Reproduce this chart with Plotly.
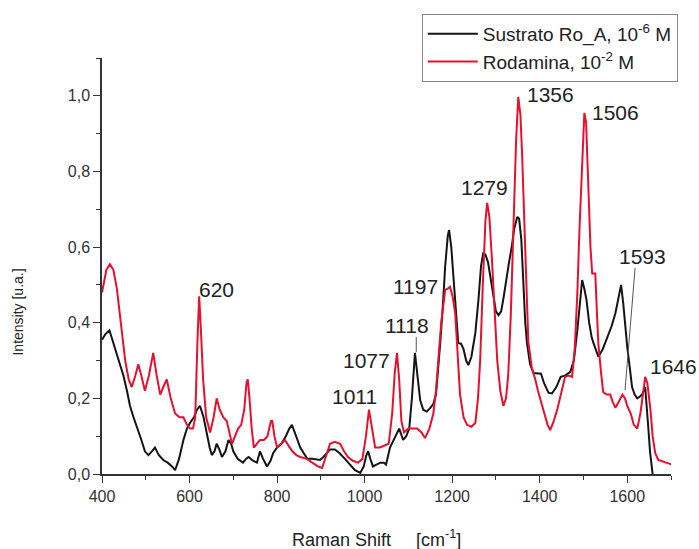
import plotly.graph_objects as go

# Raman spectra: Rhodamine reference solution and Ro_A SERS substrate
rodamina_x = [400, 410, 418, 426, 434, 443, 453, 461, 468, 476, 483, 490, 498, 507, 517, 525, 533, 540,
              548, 557, 567, 577, 586, 594, 601, 608, 613, 618, 622, 626, 631, 638, 647, 655, 662, 669,
              677, 685, 692, 697, 704, 711, 718, 725, 730, 733, 737, 742, 747, 754, 761, 770, 778, 786,
              789, 794, 800, 809, 818, 826, 835, 844, 853, 868, 882, 893, 903, 912, 921, 932, 944, 953,
              962, 973, 985, 995, 1003, 1010, 1016, 1024, 1035, 1045, 1055, 1063, 1069, 1074, 1079, 1084,
              1090, 1100, 1110, 1120, 1130, 1138, 1148, 1157, 1163, 1168, 1175, 1184, 1190, 1195, 1201,
              1207, 1212, 1218, 1226, 1234, 1244, 1253, 1259, 1264, 1270, 1276, 1280, 1285, 1291, 1297,
              1303, 1310, 1317, 1323, 1328, 1334, 1340, 1346, 1351, 1356, 1360, 1363, 1368, 1374, 1382,
              1390, 1396, 1401, 1410, 1418, 1424, 1432, 1440, 1448, 1458, 1466, 1474, 1480, 1486, 1491,
              1497, 1502, 1506, 1511, 1516, 1520, 1527, 1531, 1534, 1540, 1545, 1553, 1561, 1567, 1573,
              1580, 1589, 1595, 1600, 1608, 1615, 1623, 1630, 1637, 1641, 1646, 1653, 1658, 1664, 1671,
              1682, 1692, 1702]
rodamina_y = [0.48, 0.54, 0.555, 0.54, 0.49, 0.40, 0.30, 0.25, 0.23, 0.26, 0.29, 0.26, 0.22, 0.26, 0.32,
              0.26, 0.21, 0.23, 0.25, 0.20, 0.16, 0.15, 0.15, 0.13, 0.12, 0.12, 0.15, 0.35, 0.47, 0.38,
              0.25, 0.15, 0.11, 0.15, 0.20, 0.17, 0.15, 0.14, 0.10, 0.08, 0.10, 0.12, 0.13, 0.17, 0.24,
              0.25, 0.20, 0.12, 0.07, 0.08, 0.09, 0.09, 0.10, 0.14, 0.14, 0.10, 0.07, 0.08, 0.09, 0.075,
              0.06, 0.05, 0.045, 0.04, 0.03, 0.02, 0.016, 0.05, 0.08, 0.085, 0.08, 0.06, 0.045, 0.035,
              0.03, 0.04, 0.10, 0.17, 0.13, 0.07, 0.07, 0.075, 0.08, 0.16, 0.27, 0.32, 0.25, 0.14, 0.11,
              0.12, 0.12, 0.12, 0.11, 0.095, 0.12, 0.16, 0.22, 0.30, 0.40, 0.487, 0.49, 0.495, 0.47,
              0.425, 0.32, 0.21, 0.15, 0.13, 0.125, 0.135, 0.20, 0.30, 0.50, 0.67, 0.717, 0.68, 0.566,
              0.43, 0.30, 0.22, 0.18, 0.20, 0.26, 0.42, 0.65, 0.88, 0.997, 0.95, 0.84, 0.74, 0.55, 0.35,
              0.28, 0.25, 0.22, 0.20, 0.16, 0.13, 0.116, 0.14, 0.17, 0.21, 0.257, 0.26, 0.257, 0.33,
              0.478, 0.65, 0.83, 0.955, 0.93, 0.74, 0.60, 0.53, 0.53, 0.42, 0.346, 0.27, 0.217, 0.21,
              0.21, 0.19, 0.175, 0.19, 0.21, 0.20, 0.18, 0.16, 0.13, 0.12, 0.16, 0.22, 0.257, 0.24, 0.17,
              0.10, 0.055, 0.037, 0.032, 0.028, 0.025]

sustrato_x = [400, 408, 417, 425, 434, 441, 449, 457, 464, 472, 480, 490, 498, 506, 514, 521, 530, 540,
              550, 560, 567, 576, 586, 594, 601, 610, 617, 624, 632, 640, 646, 651, 657, 662, 668, 674,
              682, 689, 695, 700, 710, 722, 729, 735, 745, 754, 761, 768, 777, 785, 791, 800, 810, 820,
              828, 834, 840, 847, 853, 861, 869, 880, 890, 898, 906, 914, 921, 932, 943, 955, 966, 978,
              990, 998, 1004, 1008, 1013, 1019, 1027, 1036, 1044, 1049, 1058, 1066, 1074, 1079, 1088,
              1095, 1102, 1108, 1115, 1120, 1127, 1134, 1142, 1150, 1157, 1163, 1168, 1173, 1179, 1184,
              1190, 1193, 1198, 1203, 1209, 1214, 1220, 1226, 1232, 1237, 1244, 1253, 1260, 1266, 1271,
              1276, 1282, 1288, 1294, 1300, 1306, 1312, 1318, 1324, 1330, 1336, 1342, 1349, 1353, 1358,
              1363, 1367, 1371, 1378, 1386, 1395, 1403, 1410, 1420, 1428, 1438, 1448, 1458, 1470, 1478,
              1486, 1492, 1497, 1502, 1507, 1513, 1519, 1523, 1529, 1534, 1544, 1554, 1564, 1573, 1579,
              1586, 1591, 1596, 1600, 1606, 1611, 1617, 1623, 1629, 1634, 1641, 1645, 1648, 1652, 1656,
              1660]
sustrato_y = [0.355, 0.37, 0.38, 0.35, 0.32, 0.29, 0.26, 0.22, 0.18, 0.15, 0.125, 0.09, 0.06, 0.05, 0.06,
              0.07, 0.05, 0.037, 0.03, 0.02, 0.01, 0.04, 0.09, 0.12, 0.135, 0.15, 0.17, 0.18, 0.15, 0.10,
              0.07, 0.05, 0.06, 0.08, 0.065, 0.045, 0.06, 0.09, 0.08, 0.06, 0.04, 0.03, 0.04, 0.045,
              0.035, 0.03, 0.06, 0.04, 0.02, 0.035, 0.055, 0.07, 0.08, 0.10, 0.12, 0.13, 0.11, 0.085,
              0.07, 0.055, 0.04, 0.04, 0.038, 0.037, 0.045, 0.055, 0.065, 0.065, 0.055, 0.04, 0.025,
              0.01, 0.003, 0.02, 0.05, 0.06, 0.04, 0.02, 0.025, 0.03, 0.03, 0.025, 0.07, 0.09, 0.11,
              0.12, 0.09, 0.10, 0.12, 0.20, 0.32, 0.26, 0.195, 0.17, 0.165, 0.175, 0.185, 0.21, 0.27,
              0.35, 0.45, 0.548, 0.63, 0.645, 0.60, 0.52, 0.42, 0.346, 0.345, 0.33, 0.30, 0.288, 0.31,
              0.373, 0.46, 0.55, 0.585, 0.58, 0.56, 0.52, 0.47, 0.43, 0.42, 0.43, 0.47, 0.52, 0.56,
              0.60, 0.65, 0.68, 0.675, 0.62, 0.50, 0.40, 0.346, 0.29, 0.267, 0.265, 0.265, 0.24, 0.215,
              0.213, 0.23, 0.257, 0.26, 0.27, 0.30, 0.38, 0.46, 0.513, 0.49, 0.46, 0.40, 0.36, 0.346,
              0.325, 0.31, 0.33, 0.36, 0.39, 0.425, 0.46, 0.50, 0.45, 0.38, 0.336, 0.28, 0.23, 0.21,
              0.20, 0.205, 0.21, 0.23, 0.18, 0.125, 0.06, 0.01, -0.02]

# Peak labels: text, x anchor position, y position, horizontal anchor
peak_labels = ["620", "1011", "1077", "1118", "1197", "1279", "1356", "1506", "1593", "1646"]
peak_label_x = [617, 978, 1063, 1096, 1173, 1273, 1367, 1515, 1577, 1648]
peak_label_y = [0.489, 0.204, 0.30, 0.394, 0.495, 0.757, 1.003, 0.955, 0.574, 0.283]
peak_label_anchor = ["left", "center", "right", "center", "right", "center", "left", "left", "left", "left"]

# Leader lines from a label to its band: (x0, y0, x1, y1)
leader_lines = [(1118, 0.362, 1118, 0.322), (1618, 0.545, 1595, 0.222)]

series_names = ["Sustrato Ro_A, 10<sup>-6</sup> M", "Rodamina, 10<sup>-2</sup> M"]
series_colors = ["#141414", "#e8102e"]

x_ticks = [400, 600, 800, 1000, 1200, 1400, 1600]
y_ticks = [0.0, 0.2, 0.4, 0.6, 0.8, 1.0]

FONT = "Arial, Liberation Sans, sans-serif"

fig = go.Figure()
fig.add_trace(go.Scatter(x=sustrato_x, y=sustrato_y, mode="lines", name=series_names[0],
                         line=dict(color=series_colors[0], width=2)))
fig.add_trace(go.Scatter(x=rodamina_x, y=rodamina_y, mode="lines", name=series_names[1],
                         line=dict(color=series_colors[1], width=2)))

for txt, lx, ly, anc in zip(peak_labels, peak_label_x, peak_label_y, peak_label_anchor):
    fig.add_annotation(x=lx, y=ly, text=txt, showarrow=False, xanchor=anc, yanchor="middle",
                       font=dict(family=FONT, size=21, color="#222222"))

for x0, y0, x1, y1 in leader_lines:
    fig.add_shape(type="line", x0=x0, y0=y0, x1=x1, y1=y1, xref="x", yref="y",
                  line=dict(color="#555555", width=1))

# Axis titles
fig.add_annotation(xref="paper", yref="paper", x=0.4816, y=-0.154, showarrow=False,
                   xanchor="center", yanchor="middle",
                   text="Raman Shift\u00a0\u00a0\u00a0\u00a0\u00a0[cm<sup>-1</sup>]",
                   font=dict(family=FONT, size=18, color="#222222"))
fig.add_annotation(xref="paper", yref="paper", x=-0.148, y=0.39, showarrow=False,
                   xanchor="center", yanchor="middle", textangle=-90,
                   text="Intensity [u.a.]",
                   font=dict(family=FONT, size=14, color="#222222"))

axis_common = dict(showline=True, linecolor="#333333", linewidth=1.5, showgrid=False,
                   zeroline=False, ticks="outside", ticklen=7, tickwidth=1.2, tickcolor="#333333",
                   tickfont=dict(family=FONT, size=16, color="#333333"))

fig.update_xaxes(range=[400, 1700], tickvals=x_ticks,
                 minor=dict(ticks="outside", ticklen=4, tickcolor="#333333", dtick=100, tick0=400),
                 **axis_common)
fig.update_yaxes(range=[0, 1.1], tickvals=y_ticks, tickformat=".1f",
                 minor=dict(ticks="outside", ticklen=4, tickcolor="#333333", dtick=0.1, tick0=0),
                 **axis_common)

fig.update_layout(
    width=699, height=549,
    margin=dict(l=102, r=28, t=58, b=75),
    paper_bgcolor="white", plot_bgcolor="white",
    separators=",.",
    font=dict(family=FONT, color="#222222"),
    legend=dict(x=0.562, y=1.106, xanchor="left", yanchor="top",
                bgcolor="white", bordercolor="#8a8a8a", borderwidth=1,
                itemwidth=50, font=dict(family=FONT, size=19, color="#222222")),
)

fig.write_html("out.html")
